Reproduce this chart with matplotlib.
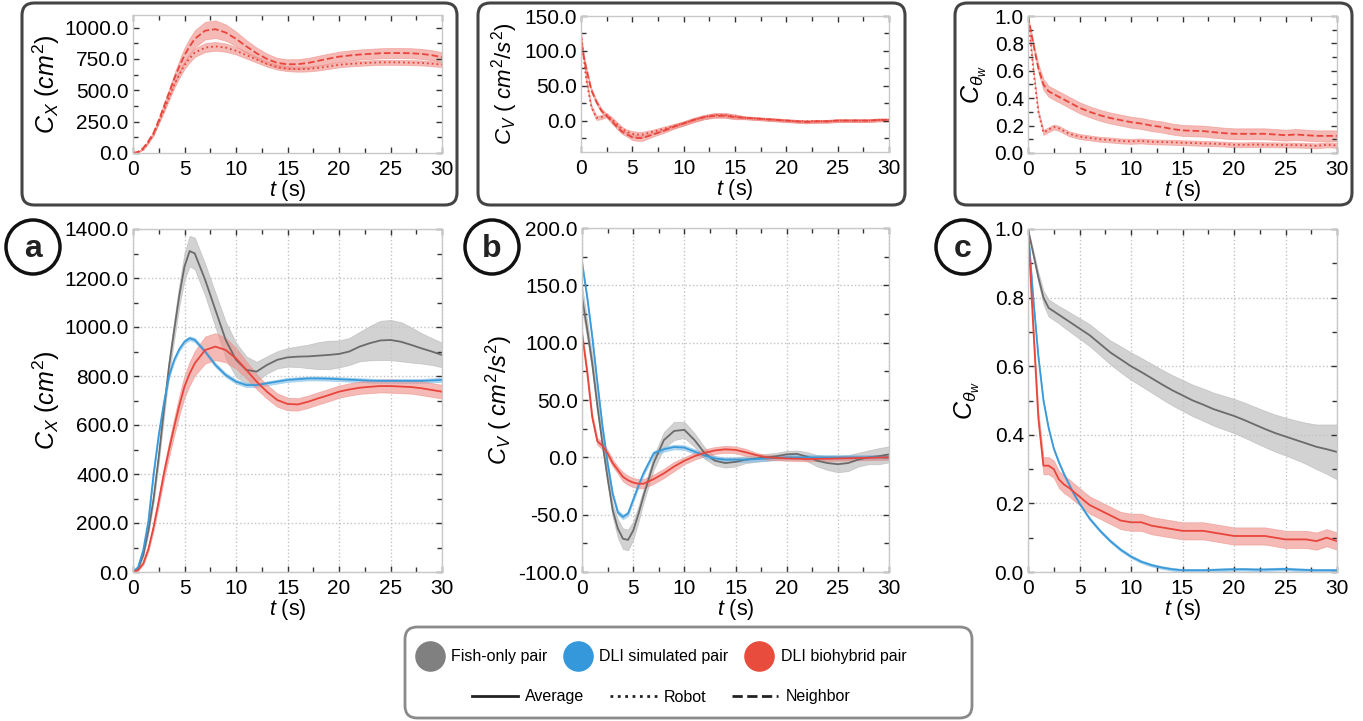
import numpy as np
import matplotlib
matplotlib.use('Agg')
import matplotlib.pyplot as plt
from matplotlib.patches import FancyBboxPatch, Ellipse
from matplotlib.lines import Line2D
from matplotlib.ticker import MultipleLocator, FormatStrFormatter

plt.rcParams['font.family'] = ['Liberation Sans', 'DejaVu Sans']
plt.rcParams['mathtext.fontset'] = 'custom'
plt.rcParams['mathtext.it'] = 'Liberation Sans:italic'
plt.rcParams['mathtext.rm'] = 'Liberation Sans'

# time grid (s)
t = [0, 0.5, 1, 1.5, 2, 2.5, 3, 3.5, 4, 4.5, 5, 5.5, 6, 7, 8, 9, 10, 11, 12, 13, 14,
     15, 16, 17, 18, 19, 20, 21, 22, 23, 24, 25, 26, 27, 28, 29, 30]

# panel a, C_X (cm^2)
cx_fish = [0, 15, 70, 170, 300, 470, 660, 840, 988, 1130, 1247, 1310, 1300, 1193, 1070, 947, 866, 825, 818,
           845, 866, 876, 879, 880, 883, 886, 890, 900, 920, 934, 945, 947, 940, 927, 913, 900, 886]
cx_fish_sd = [0, 3, 8, 12, 18, 25, 30, 35, 40, 45, 55, 62, 65, 65, 70, 75, 70, 55, 40, 35, 35, 38, 42, 48,
              55, 58, 55, 55, 60, 70, 80, 82, 80, 72, 62, 55, 50]
cx_sim = [0, 20, 90, 210, 400, 560, 690, 800, 866, 910, 940, 954, 947, 900, 845, 804, 777, 763, 763, 770,
          777, 784, 787, 790, 790, 789, 787, 785, 783, 781, 780, 780, 780, 780, 780, 782, 784]
cx_sim_sd = [0, 2, 4, 6, 7, 8, 8, 8, 8, 8, 8, 8, 8, 8, 8, 8, 8, 8, 8, 8, 8, 8, 8, 8, 8, 8, 8, 8, 8, 8,
             8, 8, 8, 8, 8, 8, 8]
cx_bio = [0, 8, 35, 95, 184, 290, 402, 500, 593, 680, 757, 810, 852, 906, 920, 906, 872, 825, 777, 736,
          702, 686, 684, 695, 709, 722, 736, 745, 752, 756, 759, 759, 757, 755, 750, 743, 736]
cx_bio_sd = [0, 2, 5, 10, 15, 20, 25, 30, 35, 40, 45, 48, 50, 55, 55, 50, 42, 35, 30, 28, 27, 26, 25, 25,
             25, 25, 25, 25, 25, 26, 26, 27, 27, 27, 28, 28, 28]
# top a, biohybrid robot / neighbor
cx_nb = [0, 10, 40, 95, 160, 260, 370, 480, 590, 690, 780, 850, 910, 975, 987, 960, 910, 850, 795, 750,
         718, 707, 708, 718, 735, 752, 768, 777, 785, 790, 795, 797, 797, 795, 790, 780, 763]
cx_nb_sd = [0, 3, 6, 10, 15, 20, 25, 30, 40, 50, 58, 64, 68, 70, 70, 65, 58, 50, 45, 42, 40, 40, 40, 40,
            40, 40, 40, 40, 40, 40, 40, 40, 40, 40, 40, 40, 40]
cx_rb = [0, 8, 30, 85, 150, 245, 340, 440, 540, 625, 700, 755, 800, 840, 850, 840, 815, 780, 745, 710,
         685, 672, 668, 670, 678, 690, 703, 710, 715, 719, 722, 723, 722, 720, 718, 712, 705]
cx_rb_sd = [0, 2, 4, 6, 8, 12, 15, 18, 22, 26, 30, 32, 34, 35, 35, 33, 30, 27, 24, 22, 20, 20, 20, 20,
            20, 20, 20, 20, 20, 20, 20, 20, 20, 20, 20, 20, 20]

# panel b, C_V (cm^2/s^2)
cv_fish = [140, 112, 82, 45, 12, -18, -46, -62, -71, -72, -64, -50, -34, -5, 15, 23, 24, 15, 3.5, -3, -5,
           -4, -2, -1, 0, 1, 2.6, 3, 0.6, -3, -5, -6, -5, -2, 0, 1, 2.6]
cv_fish_sd = [10, 8, 7, 6, 5, 5, 6, 8, 9, 9, 8, 7, 6, 6, 7, 8, 7, 6, 5, 4, 4, 4, 3, 3, 3, 3, 3, 3, 4, 5,
              6, 7, 7, 6, 6, 7, 7]
cv_sim = [170, 140, 105, 65, 27, -5, -32, -48, -52, -49, -37, -25, -14, 3.5, 7, 9, 8.5, 5, 1.5, -1, -2,
          -2, -2, -1.5, -1, -0.5, 0, 0, 0, 0, 0, 0, 0, 0, 0, 0, 0]
cv_sim_sd = [2] * 37
cv_bio = [108, 75, 35, 14, 10, 3.5, -5, -11, -17, -20, -22, -23, -23, -19, -14, -8, -3, 1, 4, 6, 7, 6.5,
          4.4, 2, 0, -0.5, -1, -1.2, -1.5, -1.3, -1.2, -1, -0.8, -0.6, -0.5, -0.2, 0]
cv_bio_sd = [3, 3, 3, 3, 3, 3, 3, 3, 4, 4, 4, 4, 4, 4, 4, 4, 3, 3, 3, 3, 3, 3, 3, 2, 2, 2, 2, 2, 2, 2,
             2, 2, 2, 2, 2, 2, 2]
cv_nb = [110, 75, 44, 27, 14, 7, -1, -9, -16, -20, -24, -25, -25, -20, -15, -9, -4, 1, 5, 7, 7, 5, 4, 3,
         2, 1, 0, -1, -2, -1, -1, 0, 0, 0, 0, 1, 1]
cv_rb = [125, 60, 20, 4, 5, 8, 2, -5, -12, -16, -19, -20, -20, -16, -12, -8, -4, 1, 5, 8, 8, 6, 4, 3, 2,
         1, 0, -1, -1, -1, -1, 0, 0, 0, 0, 1, 1]
cv_top_sd = [4, 4, 3, 3, 3, 3, 3, 3, 3, 3, 4, 4, 4, 3, 3, 3, 3, 3, 3, 3, 3, 3, 2, 2, 2, 2, 2, 2, 2, 2,
             2, 2, 2, 2, 2, 2, 2]

# panel c, C_theta_w
ct_fish = [1.0, 0.93, 0.86, 0.8, 0.77, 0.76, 0.75, 0.74, 0.73, 0.72, 0.71, 0.70, 0.69, 0.665, 0.64, 0.62,
           0.6, 0.583, 0.565, 0.547, 0.53, 0.515, 0.5, 0.488, 0.475, 0.465, 0.455, 0.443, 0.43, 0.417,
           0.405, 0.395, 0.385, 0.375, 0.365, 0.358, 0.35]
ct_fish_sd = [0, 0.01, 0.015, 0.02, 0.025, 0.025, 0.025, 0.027, 0.028, 0.029, 0.03, 0.031, 0.032, 0.033,
              0.035, 0.038, 0.04, 0.041, 0.042, 0.043, 0.044, 0.045, 0.046, 0.047, 0.048, 0.049, 0.05,
              0.051, 0.052, 0.053, 0.054, 0.055, 0.057, 0.06, 0.065, 0.072, 0.08]
ct_sim = [1.0, 0.8, 0.63, 0.5, 0.42, 0.36, 0.32, 0.285, 0.255, 0.225, 0.2, 0.177, 0.155, 0.12, 0.09,
          0.065, 0.045, 0.03, 0.02, 0.013, 0.008, 0.005, 0.005, 0.005, 0.006, 0.007, 0.008, 0.008, 0.007,
          0.007, 0.008, 0.009, 0.007, 0.006, 0.005, 0.005, 0.005]
ct_sim_sd = [0.004] * 37
ct_bio = [1.0, 0.72, 0.45, 0.31, 0.31, 0.3, 0.27, 0.255, 0.245, 0.232, 0.22, 0.207, 0.195, 0.18, 0.165,
          0.15, 0.145, 0.145, 0.135, 0.13, 0.125, 0.12, 0.12, 0.12, 0.115, 0.11, 0.105, 0.105, 0.105,
          0.105, 0.1, 0.095, 0.095, 0.095, 0.09, 0.1, 0.09]
ct_bio_sd = [0, 0.01, 0.02, 0.025, 0.025, 0.025, 0.025, 0.025, 0.025, 0.025, 0.025, 0.025, 0.025, 0.025,
             0.025, 0.025, 0.025, 0.025, 0.025, 0.025, 0.025, 0.025, 0.025, 0.025, 0.025, 0.025, 0.025,
             0.025, 0.025, 0.025, 0.025, 0.025, 0.025, 0.025, 0.025, 0.025, 0.025]
ct_nb = [1.0, 0.8, 0.62, 0.5, 0.45, 0.43, 0.41, 0.39, 0.37, 0.35, 0.33, 0.315, 0.3, 0.275, 0.255, 0.24,
         0.225, 0.215, 0.2, 0.19, 0.175, 0.165, 0.162, 0.16, 0.152, 0.145, 0.14, 0.14, 0.14, 0.14, 0.135,
         0.13, 0.135, 0.13, 0.125, 0.125, 0.125]
ct_nb_sd = [0, 0.02, 0.03] + [0.04] * 34
ct_rb = [1.0, 0.62, 0.3, 0.15, 0.17, 0.19, 0.18, 0.16, 0.14, 0.13, 0.12, 0.115, 0.11, 0.1, 0.095, 0.088,
         0.085, 0.088, 0.082, 0.08, 0.078, 0.075, 0.073, 0.07, 0.068, 0.065, 0.06, 0.06, 0.062, 0.06,
         0.06, 0.058, 0.058, 0.056, 0.052, 0.06, 0.055]
ct_rb_sd = [0, 0.01, 0.015] + [0.018] * 34

GRAY, GRAY_F = '#6b6b6b', '#b4b4b4'
BLUE, BLUE_F = '#3a9ad9', '#7fbfe8'
RED, RED_F = '#e8453c', '#ef8d86'

W, H = 1363, 721
fig = plt.figure(figsize=(W / 100, H / 100), dpi=100)


def px_axes(x0, y0, x1, y1):
    return fig.add_axes([x0 / W, 1 - y1 / H, (x1 - x0) / W, (y1 - y0) / H])


def band(ax, y, sd, line, fill, ls='-', lw=1.3):
    y = np.array(y, dtype=float)
    sd = np.array(sd, dtype=float)
    ax.fill_between(t, y - sd, y + sd, color=fill, alpha=0.6, lw=0.6, edgecolor=fill)
    ax.plot(t, y, color=line, ls=ls, lw=lw)


def style(ax, ylim, major, minor, grid):
    ax.set_xlim(0, 30)
    ax.set_ylim(*ylim)
    ax.xaxis.set_major_locator(MultipleLocator(5))
    ax.xaxis.set_minor_locator(MultipleLocator(2.5))
    ax.yaxis.set_major_locator(MultipleLocator(major))
    ax.yaxis.set_minor_locator(MultipleLocator(minor))
    ax.yaxis.set_major_formatter(FormatStrFormatter('%.1f'))
    ax.tick_params(which='both', direction='in', top=True, right=True, labelsize=15,
                   color='#333333', width=1)
    ax.tick_params(axis='x', which='major', pad=5)
    ax.tick_params(axis='y', which='major', pad=3)
    ax.tick_params(which='major', length=4.5)
    ax.tick_params(which='minor', length=3.5)
    for s in ax.spines.values():
        s.set_color('#c8c8c8')
        s.set_linewidth(1)
    if grid:
        ax.grid(True, which='major', ls=':', color='#c4c4c4', lw=1)
    ax.set_xlabel(r'$t$ (s)', fontsize=15.5, labelpad=-1)


# top boxes
for x0, x1 in [(22, 457), (478, 905), (955, 1352)]:
    fig.patches.append(FancyBboxPatch((x0 / W, 1 - 205 / H), (x1 - x0) / W, 202 / H,
                                      boxstyle='round,pad=0,rounding_size=0.009',
                                      mutation_aspect=W / H, transform=fig.transFigure,
                                      fc='none', ec='#444444', lw=2.2))
fig.patches.append(FancyBboxPatch((405 / W, 1 - 718 / H), 567 / W, 91 / H,
                                  boxstyle='round,pad=0,rounding_size=0.009',
                                  mutation_aspect=W / H, transform=fig.transFigure,
                                  fc='none', ec='#8a8a8a', lw=2))

CX_LABEL = r'$C_X$ ($cm^2$)'
CV_LABEL = r'$C_V$ ( $cm^2/s^2$)'
CT_LABEL = r'$C_{\theta_w}$'

# top a
ax = px_axes(133, 15, 442, 153)
band(ax, cx_nb, cx_nb_sd, RED, RED_F, ls='--')
band(ax, cx_rb, cx_rb_sd, RED, RED_F, ls=':')
style(ax, (0, 1100), 250, 125, False)
ax.set_ylabel(CX_LABEL, fontsize=18, labelpad=2)

# top b
ax = px_axes(581, 16, 889, 152)
band(ax, cv_nb, cv_top_sd, RED, RED_F, ls='--')
band(ax, cv_rb, cv_top_sd, RED, RED_F, ls=':')
style(ax, (-45, 150), 50, 25, False)
ax.set_ylabel(CV_LABEL, fontsize=16, labelpad=3)

# top c
ax = px_axes(1028, 16, 1337, 153)
band(ax, ct_nb, ct_nb_sd, RED, RED_F, ls='--')
band(ax, ct_rb, ct_rb_sd, RED, RED_F, ls=':')
style(ax, (0, 1.0), 0.2, 0.1, False)
ax.set_ylabel(CT_LABEL, fontsize=18, labelpad=4)

# bottom a
ax = px_axes(133, 229, 442, 572)
band(ax, cx_fish, cx_fish_sd, GRAY, GRAY_F)
band(ax, cx_sim, cx_sim_sd, BLUE, BLUE_F)
band(ax, cx_bio, cx_bio_sd, RED, RED_F)
style(ax, (0, 1400), 200, 100, True)
ax.set_ylabel(CX_LABEL, fontsize=18, labelpad=2)

# bottom b
ax = px_axes(582, 228, 889, 572)
band(ax, cv_fish, cv_fish_sd, GRAY, GRAY_F)
band(ax, cv_sim, cv_sim_sd, BLUE, BLUE_F)
band(ax, cv_bio, cv_bio_sd, RED, RED_F)
style(ax, (-100, 200), 50, 25, True)
ax.set_ylabel(CV_LABEL, fontsize=17, labelpad=3)

# bottom c
ax = px_axes(1028, 229, 1337, 572)
band(ax, ct_fish, ct_fish_sd, GRAY, GRAY_F)
band(ax, ct_sim, ct_sim_sd, BLUE, BLUE_F)
band(ax, ct_bio, ct_bio_sd, RED, RED_F)
style(ax, (0, 1.0), 0.2, 0.1, True)
ax.set_ylabel(CT_LABEL, fontsize=18, labelpad=9)

# panel letters
for cx, letter in [(33, 'a'), (492, 'b'), (963, 'c')]:
    fig.patches.append(Ellipse((cx / W, 1 - 247 / H), 54 / W, 54 / H, transform=fig.transFigure,
                               fc='white', ec='#111111', lw=2.5))
    fig.text(cx / W, 1 - 249 / H, letter, ha='center', va='center', fontsize=23,
             fontweight='bold', color='#222222')

# legend
pair_handles = [Line2D([], [], marker='o', ls='', ms=21, color=c, mec=c)
                for c in ['#808080', '#3498db', '#e74c3c']]
pair_labels = ['Fish-only pair', 'DLI simulated pair', 'DLI biohybrid pair']
fig.legend(pair_handles, pair_labels, loc='center', bbox_to_anchor=(661 / W, 1 - 657 / H),
           ncol=3, frameon=False, fontsize=11.5, handletextpad=0.45, columnspacing=1.06,
           handlelength=1.75)
style_handles = [Line2D([], [], color='#222222', lw=2, ls=s) for s in ['-', ':', '--']]
style_labels = ['Average', 'Robot', 'Neighbor']
fig.legend(style_handles, style_labels, loc='center', bbox_to_anchor=(661 / W, 1 - 697 / H),
           ncol=3, frameon=False, fontsize=11.5, handletextpad=0.45, columnspacing=1.6,
           handlelength=2.9)

fig.savefig('out.png', dpi=100)
